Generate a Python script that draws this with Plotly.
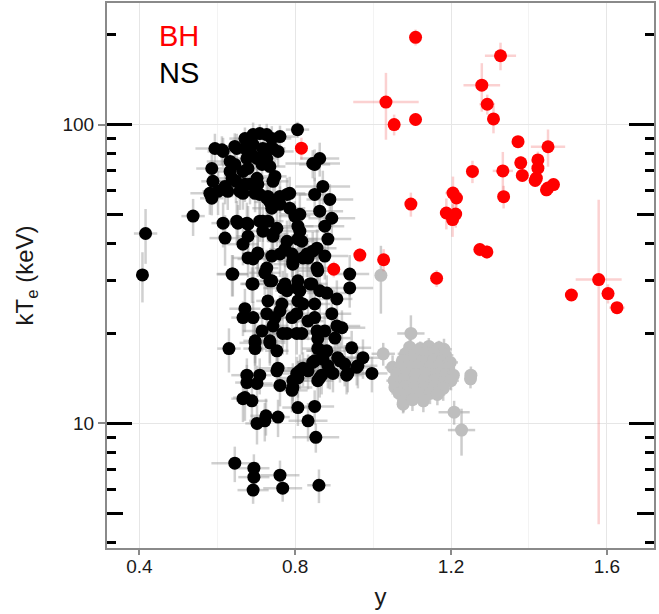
import plotly.graph_objects as go

# ---------------- data ----------------
black_x = [0.806, 0.594, 0.615, 0.650, 0.671, 0.692, 0.709, 0.727, 0.740, 0.761,
           0.692, 0.717, 0.743, 0.676, 0.702, 0.727, 0.756, 0.633, 0.586, 0.589,
           0.581, 0.602, 0.586, 0.633, 0.666, 0.658, 0.684, 0.702, 0.709, 0.648,
           0.620, 0.748, 0.735, 0.671, 0.779, 0.850, 0.863, 0.850, 0.863, 0.812,
           0.786, 0.761, 0.735, 0.615, 0.653, 0.676, 0.717, 0.753, 0.812, 0.620,
           0.679, 0.743, 0.779, 0.692, 0.727, 0.761, 0.794, 0.830, 0.856, 0.640,
           0.692, 0.735, 0.768, 0.804, 0.838, 0.863, 0.735, 0.845, 0.743, 0.871,
           0.889, 0.786, 0.761, 0.730, 0.740, 0.799, 0.894, 0.807, 0.876, 0.730,
           0.884, 0.817, 0.856, 0.774, 0.709, 0.650, 0.666, 0.538, 0.416, 0.408,
           0.638, 0.689, 0.679, 0.704, 0.740, 0.792, 0.833, 0.876, 0.940, 0.940,
           0.881, 0.907, 0.740, 0.774, 0.807, 0.843, 0.730, 0.766, 0.807, 0.850,
           0.671, 0.666, 0.692, 0.715, 0.697, 0.697, 0.630, 0.727, 0.768, 0.804,
           0.735, 0.753, 0.894, 0.748, 0.792, 0.833, 0.920, 0.876, 0.817, 0.858,
           0.902, 0.945, 0.868, 0.909, 0.974, 0.850, 0.884, 0.927, 0.961, 0.833,
           0.756, 0.868, 0.807, 0.915, 0.935, 0.997, 0.889, 0.958, 0.676, 0.709,
           0.794, 0.812, 0.863, 0.858, 0.858, 0.676, 0.702, 0.761, 0.858, 0.792,
           0.666, 0.689, 0.807, 0.850, 0.725, 0.756, 0.702, 0.722, 0.833, 0.853,
           0.645, 0.694, 0.694, 0.761, 0.692, 0.768, 0.861,
           0.645, 0.689, 0.722, 0.645, 0.679, 0.715, 0.638, 0.671, 0.704, 0.627,
           0.666, 0.697, 0.727, 0.612, 0.807, 0.717, 0.743, 0.704, 0.679, 0.794,
           0.820, 0.845, 0.858, 0.722, 0.779, 0.812, 0.820, 0.761, 0.804, 0.850,
           0.743, 0.856, 0.907, 0.735, 0.881, 0.845, 0.871, 0.932, 0.897, 0.820,
           0.804, 0.753, 0.794, 0.671, 0.779, 0.697]
black_y = [96.2, 83.2, 81.3, 83.2, 89.8, 92.6, 93.3, 92.6, 89.8, 91.2,
           85.8, 83.2, 83.2, 77.0, 77.0, 77.0, 81.3, 75.3, 71.3, 64.6,
           58.9, 59.8, 56.7, 69.7, 69.7, 59.8, 63.1, 66.1, 58.4, 64.6,
           62.1, 67.1, 72.4, 83.2, 58.4, 73.6, 77.0, 58.4, 51.3, 50.1,
           52.5, 54.1, 55.1, 46.8, 46.8, 46.8, 47.5, 45.0, 44.0, 41.7,
           42.3, 43.0, 40.7, 35.5, 33.1, 36.9, 34.1, 36.9, 33.1, 31.6,
           29.3, 30.0, 28.4, 28.4, 29.3, 27.8, 83.2, 74.1, 64.6, 62.1,
           56.2, 58.9, 57.5, 57.5, 52.5, 49.4, 48.6, 45.7, 45.7, 47.5,
           41.4, 40.7, 38.6, 38.3, 47.5, 47.5, 39.8, 49.4, 43.2, 31.4,
           31.6, 29.3, 35.8, 36.9, 36.3, 36.9, 35.8, 36.3, 31.6, 28.4,
           27.3, 26.1, 30.0, 29.3, 30.0, 29.3, 25.7, 25.1, 25.7, 25.1,
           24.2, 22.6, 22.6, 20.4, 18.6, 17.8, 17.8, 23.3, 20.0, 20.0,
           18.6, 17.5, 23.3, 22.6, 22.6, 22.0, 20.9, 20.4, 20.0, 19.2,
           19.3, 17.9, 17.5, 16.6, 16.6, 16.2, 15.6, 15.8, 15.6, 15.0,
           15.3, 14.5, 14.2, 16.2, 14.7, 14.7, 15.0, 15.4, 14.5, 14.5,
           13.9, 15.0, 14.2, 20.1, 17.8, 13.7, 13.6, 13.4, 13.9, 12.9,
           12.1, 11.9, 11.3, 11.4, 10.6, 10.5, 10.0, 10.2, 10.2, 8.98,
           7.36, 7.08, 6.61, 6.71, 5.98, 6.07, 6.21,
           84.5, 79.4, 81.3, 73.6, 71.3, 73.6, 66.1, 63.1, 63.1, 59.8,
           58.9, 58.9, 56.7, 82.4, 41.4, 44.0, 42.3, 37.2, 46.4, 34.9,
           35.8, 37.7, 32.4, 31.9, 27.8, 27.8, 25.1, 23.8, 23.3, 22.6,
           21.2, 20.4, 21.2, 18.9, 17.5, 16.0, 16.4, 14.5, 14.7, 15.3,
           14.7, 15.0, 13.2, 12.2, 20.0, 18.9]
black_xerr = [0.03, 0.05, 0.04, 0.03, 0.04, 0.03, 0.04, 0.03, 0.05, 0.04,
              0.03, 0.04, 0.03, 0.05, 0.04, 0.03, 0.04, 0.06, 0.04, 0.03,
              0.05, 0.04, 0.03, 0.04, 0.03, 0.05, 0.04, 0.03, 0.04, 0.05,
              0.04, 0.03, 0.04, 0.03, 0.05, 0.04, 0.05, 0.04, 0.06, 0.05,
              0.04, 0.03, 0.04, 0.03, 0.04, 0.05, 0.03, 0.04, 0.05, 0.04,
              0.03, 0.04, 0.05, 0.04, 0.03, 0.04, 0.05, 0.04, 0.05, 0.04,
              0.03, 0.04, 0.05, 0.04, 0.03, 0.04, 0.04, 0.07, 0.04, 0.07,
              0.06, 0.04, 0.03, 0.04, 0.05, 0.04, 0.06, 0.04, 0.05, 0.04,
              0.06, 0.04, 0.05, 0.04, 0.03, 0.04, 0.04, 0.03, 0.03, 0.01,
              0.04, 0.03, 0.04, 0.03, 0.04, 0.05, 0.04, 0.06, 0.05, 0.06,
              0.05, 0.04, 0.03, 0.04, 0.05, 0.04, 0.03, 0.04, 0.05, 0.04,
              0.04, 0.03, 0.04, 0.05, 0.04, 0.03, 0.03, 0.04, 0.05, 0.04,
              0.04, 0.03, 0.05, 0.04, 0.05, 0.04, 0.06, 0.05, 0.04, 0.05,
              0.04, 0.05, 0.04, 0.05, 0.05, 0.04, 0.05, 0.04, 0.05, 0.04,
              0.05, 0.04, 0.05, 0.04, 0.05, 0.04, 0.05, 0.04, 0.04, 0.03,
              0.04, 0.05, 0.04, 0.05, 0.04, 0.03, 0.04, 0.05, 0.04, 0.04,
              0.03, 0.04, 0.04, 0.05, 0.04, 0.03, 0.03, 0.04, 0.05, 0.06,
              0.06, 0.04, 0.04, 0.05, 0.04, 0.05, 0.03,
              0.04, 0.03, 0.04, 0.05, 0.04, 0.03, 0.04, 0.05, 0.04, 0.03,
              0.04, 0.05, 0.04, 0.03, 0.05, 0.04, 0.03, 0.04, 0.05, 0.04,
              0.05, 0.04, 0.05, 0.04, 0.03, 0.04, 0.05, 0.04, 0.05, 0.04,
              0.04, 0.05, 0.06, 0.04, 0.05, 0.04, 0.05, 0.04, 0.05, 0.04,
              0.05, 0.04, 0.05, 0.03, 0.04, 0.03]
black_yerr = [6, 10, 9, 10, 8, 9, 7, 8, 9, 8,
              10, 9, 10, 9, 10, 8, 9, 10, 9, 8,
              9, 10, 7, 9, 10, 8, 9, 8, 9, 10,
              8, 9, 8, 9, 8, 9, 10, 8, 7, 8,
              7, 8, 7, 8, 7, 8, 7, 6, 7, 8,
              7, 6, 7, 6, 5, 6, 5, 6, 5, 5,
              4, 5, 4, 5, 4, 5, 8, 8, 9, 8,
              7, 8, 7, 8, 7, 6, 7, 6, 6, 7,
              6, 5, 6, 5, 7, 8, 6, 7, 9, 6,
              5, 4, 5, 6, 5, 6, 5, 6, 5, 4,
              4, 4, 4, 5, 4, 4, 4, 3, 4, 3,
              4, 3, 3, 3, 3, 3, 3, 3, 3, 3,
              3, 3, 3, 3, 3, 3, 3, 3, 3, 3,
              3, 2.5, 2.5, 2.5, 2.5, 2.5, 2.5, 2.5, 2.5, 2,
              2.5, 2, 2, 2.5, 2, 2, 2, 2, 2, 2,
              2, 2, 2, 3, 2.5, 2, 2, 2, 2, 2,
              2, 2, 1.5, 1.5, 1.5, 1.5, 1.5, 1.5, 1.5, 1.0,
              1.0, 0.8, 0.8, 0.8, 0.6, 0.6, 0.8,
              9, 8, 9, 8, 9, 8, 9, 8, 7, 8,
              7, 8, 7, 9, 6, 6, 6, 5, 7, 5,
              5, 6, 5, 5, 4, 4, 4, 3, 3, 3,
              3, 3, 3, 3, 2.5, 2.5, 2.5, 2, 2, 2,
              2, 2, 2, 2, 3, 3]

red_x = [1.109, 1.033, 1.054, 1.109, 1.327, 1.279, 1.293, 1.309, 1.372, 1.449,
         1.379, 1.423, 1.423, 1.383, 1.419, 1.416, 1.449, 1.463, 1.445, 1.255,
         1.333, 1.335, 1.205, 1.214, 1.188, 1.212, 1.204, 1.097, 1.274, 1.292,
         0.966, 1.027, 0.899, 1.163, 1.579, 1.509, 1.603, 1.626, 0.816]
red_y = [196, 119, 100, 104, 170, 135.5, 117, 104.5, 87.7, 84.3,
         74.5, 76.2, 71.5, 67.6, 66.2, 65.0, 61.4, 63.0, 60.5, 69.7,
         70.0, 57.4, 59.0, 56.8, 50.6, 50.2, 48.1, 54.2, 38.2, 37.5,
         36.6, 35.3, 32.8, 30.6, 30.3, 26.9, 27.2, 24.4, 83.4]
red_xerr = [0.015, 0.084, 0.008, 0.008, 0.04, 0.047, 0.02, 0.01, 0.01, 0.044,
            0.01, 0.01, 0.01, 0.01, 0.01, 0.01, 0.01, 0.01, 0.01, 0.01,
            0.026, 0.01, 0.02, 0.01, 0.01, 0.01, 0.01, 0.005, 0.01, 0.01,
            0.005, 0.005, 0.01, 0.005, 0.059, 0.01, 0.01, 0.02, 0.01]
red_yerr = [12, 30, 8, 5, 18, 25, 9, 11, 4, 12,
            4, 5, 4, 3, 3, 3, 3, 3, 3, 6,
            11, 5, 8, 4, 6, 5, 6, 5, 2, 2,
            2, 3, 2, 2, 25.7, 1, 2, 1, 7]

grey_x = [1.020, 1.097, 1.026, 1.050, 1.182, 1.251, 1.250, 1.208, 1.227, 1.077,
          1.094, 1.121, 1.143, 1.169,
          1.083, 1.106, 1.134, 1.157, 1.186,
          1.075, 1.103, 1.126, 1.155, 1.177, 1.198,
          1.069, 1.092, 1.121, 1.146, 1.170, 1.194,
          1.061, 1.086, 1.110, 1.138, 1.163, 1.187, 1.206,
          1.054, 1.080, 1.108, 1.131, 1.159, 1.183, 1.200,
          1.056, 1.082, 1.106, 1.133, 1.157, 1.180,
          1.067, 1.095, 1.118, 1.146, 1.165,
          1.078, 1.101, 1.129]
grey_y = [31.3, 20.0, 17.1, 15.4, 17.7, 14.5, 14.1, 10.9, 9.5, 11.6,
          18.0, 17.8, 18.1, 17.9,
          17.1, 17.0, 17.2, 17.1, 16.9,
          16.2, 16.3, 16.1, 16.3, 16.2, 16.0,
          15.4, 15.5, 15.3, 15.4, 15.5, 15.3,
          14.6, 14.7, 14.6, 14.7, 14.6, 14.6, 14.5,
          13.9, 14.0, 13.9, 13.9, 14.0, 13.8, 13.9,
          13.2, 13.3, 13.2, 13.2, 13.3, 13.1,
          12.6, 12.5, 12.6, 12.6, 12.5,
          11.9, 12.0, 11.9]
grey_xerr = [0.01, 0.035, 0.03, 0.02, 0.02, 0.01, 0.01, 0.04, 0.035, 0.01,
             0.01, 0.02, 0.01, 0.02,
             0.02, 0.01, 0.02, 0.01, 0.02,
             0.01, 0.02, 0.01, 0.02, 0.01, 0.02,
             0.02, 0.01, 0.02, 0.01, 0.02, 0.01,
             0.01, 0.02, 0.01, 0.02, 0.01, 0.02, 0.01,
             0.02, 0.01, 0.02, 0.01, 0.02, 0.01, 0.02,
             0.01, 0.02, 0.01, 0.02, 0.01, 0.02,
             0.02, 0.01, 0.02, 0.01, 0.02,
             0.01, 0.02, 0.01]
grey_yerr = [8, 3, 1.5, 1.5, 1.5, 1, 1, 1, 1.7, 0.8,
             1.2, 1.0, 1.2, 1.0,
             1.0, 1.2, 1.0, 1.2, 1.0,
             1.2, 1.0, 1.2, 1.0, 1.2, 1.0,
             1.0, 1.2, 1.0, 1.2, 1.0, 1.2,
             1.0, 1.0, 1.2, 1.0, 1.0, 1.2, 1.0,
             1.0, 1.2, 1.0, 1.0, 1.2, 1.0, 1.0,
             1.0, 1.0, 1.2, 1.0, 1.0, 1.2,
             1.0, 1.0, 1.0, 1.0, 1.0,
             1.0, 1.0, 1.0]

x_ticks = [0.4, 0.8, 1.2, 1.6]
x_minor = [0.6, 1.0, 1.4]
y_ticks = [10, 100]
y_ticktext = ["10", "100"]
y_minor_short = [4, 6, 7, 8, 9, 20, 30, 40, 60, 70, 80, 90, 200]
y_minor_mid = [5, 50]
labels = ["BH", "NS"]
label_colors = ["#FF0000", "#000000"]

XR = [0.317, 1.721]
YR = [0.583, 2.407]
FONT = "Liberation Sans, Arial, sans-serif"

fig = go.Figure()

def err_trace(xs, ys, xe, ye, col, w, yax):
    return go.Scatter(x=xs, y=ys, mode="markers", yaxis=yax,
                      marker=dict(size=13, color="rgba(0,0,0,0)"),
                      error_x=dict(type="data", array=xe, color=col, thickness=w, width=0),
                      error_y=dict(type="data", array=ye, color=col, thickness=w, width=0),
                      hoverinfo="skip", showlegend=False)

def pt_trace(xs, ys, col, yax):
    return go.Scatter(x=xs, y=ys, mode="markers", yaxis=yax,
                      marker=dict(size=13, color=col, line=dict(width=0)),
                      showlegend=False)

# layering: error bars first, then points (each on its own overlaid axis,
# which also carries one of the log-tick rows)
fig.add_trace(err_trace(grey_x, grey_y, grey_xerr, grey_yerr, "rgba(170,170,170,0.6)", 2.5, "y"))
fig.add_trace(err_trace(black_x, black_y, black_xerr, black_yerr, "rgba(150,150,150,0.45)", 2.5, "y"))
fig.add_trace(pt_trace(grey_x, grey_y, "#BEBEBE", "y2"))
fig.add_trace(pt_trace(black_x, black_y, "#000000", "y3"))
fig.add_trace(err_trace(red_x, red_y, red_xerr, red_yerr, "rgba(240,90,90,0.28)", 2.5, "y4"))
fig.add_trace(pt_trace(red_x, red_y, "#FF0000", "y5"))

common_over = dict(type="log", range=YR, overlaying="y", anchor="x",
                   showgrid=False, zeroline=False, showline=False,
                   showticklabels=False, ticks="inside", tickcolor="black",
                   tickwidth=2.5, tickmode="array")

fig.update_layout(
    width=659, height=614,
    margin=dict(l=107, r=5, t=1, b=66),
    paper_bgcolor="white", plot_bgcolor="white",
    font=dict(family=FONT, color="#1a1a1a"),
    xaxis=dict(range=XR, tickmode="array", tickvals=x_ticks,
               ticks="outside", ticklen=5, tickwidth=2, tickcolor="#8a8a8a",
               showline=True, linecolor="#8a8a8a", linewidth=2, mirror=True,
               showgrid=True, gridcolor="#e6e6e6", gridwidth=1, zeroline=False,
               minor=dict(tickmode="array", tickvals=x_minor, showgrid=True,
                          gridcolor="#f3f3f3", gridwidth=1, ticks=""),
               tickfont=dict(size=19, color="#1a1a1a"), ticklabelstandoff=-5,
               title=dict(text="y", font=dict(size=24, color="#1a1a1a"), standoff=12)),
    yaxis=dict(type="log", range=YR, tickmode="array", tickvals=y_ticks,
               ticktext=y_ticktext,
               ticks="outside", ticklen=7, tickwidth=2, tickcolor="#8a8a8a",
               showline=True, linecolor="#8a8a8a", linewidth=2, mirror=True,
               showgrid=True, gridcolor="#e6e6e6", gridwidth=1, zeroline=False,
               tickfont=dict(size=19, color="#1a1a1a"),
               title=dict(text="kT<sub>e</sub> (keV)", font=dict(size=24, color="#1a1a1a"),
                          standoff=22)),
    yaxis2=dict(common_over, side="left", tickvals=y_ticks, ticklen=25,
                minor=dict(tickmode="array", tickvals=y_minor_short, ticks="inside",
                           ticklen=9, tickwidth=2.5, tickcolor="black", showgrid=False)),
    yaxis3=dict(common_over, side="left", tickvals=y_minor_mid, ticklen=16),
    yaxis4=dict(common_over, side="right", tickvals=y_ticks, ticklen=25,
                minor=dict(tickmode="array", tickvals=y_minor_short, ticks="inside",
                           ticklen=9, tickwidth=2.5, tickcolor="black", showgrid=False)),
    yaxis5=dict(common_over, side="right", tickvals=y_minor_mid, ticklen=17),
)

for i, (lab, col) in enumerate(zip(labels, label_colors)):
    fig.add_annotation(xref="paper", yref="paper", x=0.0914, y=0.94 - i * 0.068,
                       text=lab, showarrow=False, xanchor="left", yanchor="middle",
                       font=dict(size=29, color=col, family=FONT))

fig.write_html("out.html")
